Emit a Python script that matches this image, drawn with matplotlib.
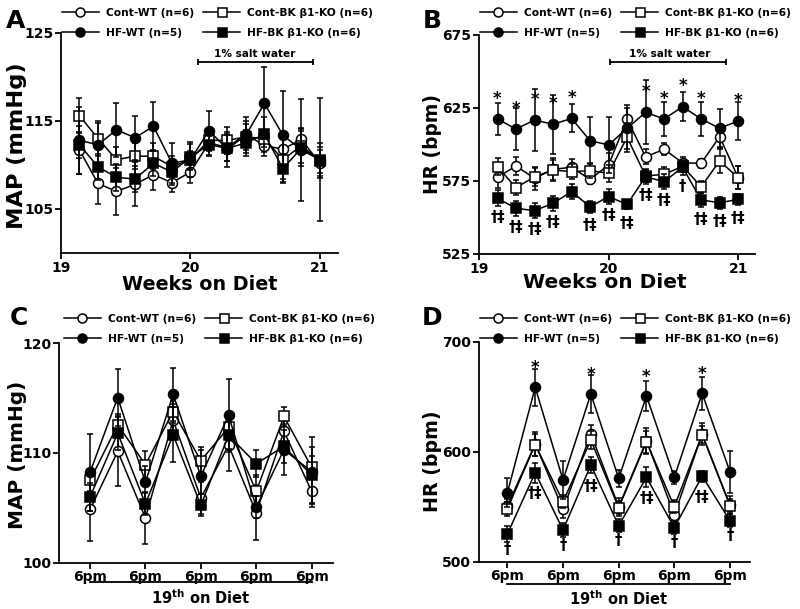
import matplotlib
matplotlib.use('Agg')
import matplotlib.pyplot as plt
import matplotlib.transforms as mtransforms
from matplotlib.lines import Line2D
import numpy as np

plt.rcParams['font.family'] = ['DejaVu Sans']
plt.rcParams['font.weight'] = 'bold'
plt.rcParams['mathtext.fontset'] = 'dejavusans'

# ---------------- data ----------------
series_names = ['Cont-WT (n=6)', 'Cont-BK \u03b21-KO (n=6)', 'HF-WT (n=5)', 'HF-BK \u03b21-KO (n=6)']

# Panel A / B : days 1..14 of weeks 19-21
days = np.arange(1, 15)

cont_wt_A = [111.7, 107.9, 107.0, 107.8, 108.9, 108.0, 109.2, 112.5, 112.0, 113.5, 112.2, 111.8, 112.9, 110.2]
cont_bk_A = [115.6, 113.0, 110.6, 111.0, 111.0, 109.8, 110.6, 112.8, 112.8, 113.2, 113.0, 110.6, 112.2, 110.5]
hf_wt_A   = [112.8, 112.3, 114.0, 113.1, 114.4, 110.2, 110.6, 113.9, 111.8, 113.4, 117.0, 113.4, 111.7, 110.6]
hf_bk_A   = [112.3, 109.8, 108.6, 108.4, 110.2, 109.2, 110.9, 112.3, 111.9, 112.5, 113.5, 109.6, 111.9, 110.6]
cont_wt_err_A = [2.7, 2.3, 2.7, 2.5, 1.7, 1.1, 1.2, 1.5, 1.5, 1.5, 1.2, 1.5, 1.2, 1.5]
cont_bk_err_A = [2.0, 2.0, 1.5, 1.5, 1.5, 1.2, 1.0, 1.2, 1.5, 1.5, 1.0, 2.5, 2.0, 2.0]
hf_wt_err_A   = [3.8, 2.5, 3.1, 2.5, 2.8, 2.3, 2.0, 2.2, 2.0, 2.0, 4.1, 5.0, 5.8, 7.0]
hf_bk_err_A   = [1.5, 1.5, 1.5, 1.5, 1.5, 1.5, 1.5, 1.2, 1.5, 1.5, 2.0, 1.7, 2.0, 1.5]

cont_wt_B = [577.5, 585.3, 576.8, 583.0, 584.4, 576.1, 586.0, 617.3, 591.6, 596.7, 587.5, 587.1, 605.4, 577.3]
cont_bk_B = [584.8, 570.4, 577.9, 582.5, 581.4, 582.1, 580.3, 605.0, 578.4, 579.6, 585.0, 571.1, 588.7, 577.3]
hf_wt_B   = [617.5, 610.6, 616.8, 613.8, 617.9, 602.6, 599.7, 611.1, 622.0, 617.5, 625.9, 617.5, 611.1, 616.1]
hf_bk_B   = [563.1, 556.3, 554.7, 559.7, 567.7, 557.4, 564.3, 559.0, 577.9, 574.5, 584.4, 562.0, 560.1, 562.4]
cont_wt_err_B = [7, 6, 8, 8, 6, 3, 8, 10, 5, 4, 4, 3, 8, 8]
cont_bk_err_B = [6, 5, 6, 7, 5, 5, 6, 10, 4, 5, 4, 4, 8, 8]
hf_wt_err_B   = [10.7, 14.6, 21, 20, 9.6, 16, 19, 14, 22, 11.5, 10, 11.5, 13, 13]
hf_bk_err_B   = [5.5, 5, 5, 5, 5, 4, 5, 3, 5, 5, 5, 5, 4, 4]
star_B = ['*', '*', '*', '*', '*', '', '', '', '*', '*', '*', '*', '', '*']
dag_B  = ['\u2020\u2021', '\u2020\u2021', '\u2020\u2021', '\u2020\u2021', '', '\u2020\u2021', '\u2020\u2021',
          '\u2020\u2021', '\u2020\u2021', '\u2020\u2021', '\u2020', '\u2020\u2021', '\u2020\u2021', '\u2020\u2021']

# Panel C / D : 9 time points on day 19
points = np.arange(9)
time_labels = ['6pm', '6pm', '6pm', '6pm', '6pm']

cont_wt_C = [104.85, 110.15, 104.09, 113.0, 105.9, 110.7, 104.55, 111.97, 106.5]
cont_bk_C = [107.5, 112.57, 108.94, 113.78, 109.3, 112.33, 106.51, 113.33, 108.7]
hf_wt_C   = [108.24, 115.05, 107.33, 115.36, 107.88, 113.42, 105.05, 110.3, 108.3]
hf_bk_C   = [106.0, 111.8, 105.36, 111.66, 105.24, 111.6, 109.03, 110.6, 107.97]
cont_wt_err_C = [2.85, 3.2, 2.4, 1.5, 1.5, 2.3, 2.5, 1.2, 1.1]
cont_bk_err_C = [1.0, 1.0, 1.2, 1.0, 1.0, 1.0, 1.5, 0.9, 1.0]
hf_wt_err_C   = [3.5, 2.6, 1.5, 2.4, 2.7, 3.3, 1.0, 2.3, 3.2]
hf_bk_err_C   = [1.3, 1.5, 1.0, 2.5, 1.0, 1.2, 1.2, 1.5, 2.6]

cont_wt_D = [550.6, 607.0, 547.6, 616.1, 550.0, 610.0, 542.5, 616.0, 551.5]
cont_bk_D = [548.0, 606.5, 554.6, 610.6, 549.0, 609.0, 550.0, 615.5, 551.0]
hf_wt_D   = [562.7, 658.5, 574.3, 652.5, 575.8, 650.6, 576.7, 653.0, 581.8]
hf_bk_D   = [525.2, 580.9, 528.8, 587.9, 532.7, 576.7, 530.9, 577.9, 537.3]
cont_wt_err_D = [6, 11, 8, 8, 8, 12, 6, 10, 8]
cont_bk_err_D = [6, 10, 6, 8, 6, 10, 6, 8, 6]
hf_wt_err_D   = [13, 17, 17, 17, 8, 14, 6, 15, 19]
hf_bk_err_D   = [7, 9, 6, 7, 6, 9, 6, 5, 6]
star_D = ['', '*', '', '*', '', '*', '', '*', '']
dag_D  = ['\u2020', '\u2020\u2021', '\u2020', '\u2020\u2021', '\u2020', '\u2020\u2021', '\u2020', '\u2020\u2021', '\u2020']

# ---------------- styling ----------------
W, H = 800, 609
fig = plt.figure(figsize=(W / 100, H / 100), dpi=100)

MS = 7.2
LW = 1.1
styles = [dict(marker='o', mfc='white'), dict(marker='s', mfc='white'),
          dict(marker='o', mfc='black'), dict(marker='s', mfc='black')]


def px_axes(l, t, r, b):
    return fig.add_axes([l / W, 1 - b / H, (r - l) / W, (b - t) / H])


def style_axes(ax, xpad):
    for s in ['top', 'right']:
        ax.spines[s].set_visible(False)
    for s in ['left', 'bottom']:
        ax.spines[s].set_linewidth(1.3)
    ax.tick_params(direction='out', length=4, width=1.3, labelsize=10)
    ax.tick_params(axis='x', pad=xpad)
    ax.tick_params(axis='y', pad=1.5)
    for lab in ax.get_xticklabels() + ax.get_yticklabels():
        lab.set_fontweight('bold')


def draw_series(ax, x, ys, errs):
    for i, (y, e) in enumerate(zip(ys, errs)):
        ax.errorbar(x, y, yerr=e, color='black', lw=LW, elinewidth=LW, capsize=2.0, capthick=LW,
                    ms=MS, mec='black', mew=1.1, zorder=3 + i, **styles[i])


def add_legend(x, y):
    hs = [Line2D([], [], color='black', lw=LW, ms=MS, mec='black', mew=1.1, **st) for st in styles]
    order = [0, 2, 1, 3]
    fig.legend([hs[i] for i in order], [series_names[i] for i in order], ncol=2, loc='upper left',
               bbox_to_anchor=(x / W, 1 - y / H), frameon=False, handlelength=3.45,
               handletextpad=0.65, columnspacing=0.85, labelspacing=0.95, borderpad=0, borderaxespad=0,
               markerscale=0.9, numpoints=1, prop={'weight': 'bold', 'size': 7.7})


def annotate_marks(ax, x, y, labels, offset_px, fs, above, glyph_center_em):
    em_px = fs * 100 / 72
    for xi, yi, lab in zip(x, y, labels):
        if not lab:
            continue
        if above:
            off = offset_px - glyph_center_em * em_px
        else:
            off = -(offset_px + glyph_center_em * em_px)
        ax.annotate(lab, xy=(xi, yi), xytext=(0, off * 0.72), textcoords='offset points',
                    ha='center', va='baseline', fontsize=fs, fontweight='bold', zorder=10,
                    annotation_clip=False)


# ---------------- Panel A ----------------
axA = px_axes(61, 33, 338, 253)
xw = 19 + days / 7
draw_series(axA, xw, [cont_wt_A, cont_bk_A, hf_wt_A, hf_bk_A],
            [cont_wt_err_A, cont_bk_err_A, hf_wt_err_A, hf_bk_err_A])
axA.set_xlim(19, 21.14)
axA.set_ylim(100, 125)
axA.set_xticks([19, 20, 21])
axA.set_yticks([105, 115, 125])
style_axes(axA, 2)
axA.plot([20.06, 20.95], [121.7, 121.7], color='black', lw=1.3, clip_on=False)
axA.plot([20.06, 20.95], [121.7, 121.7], ls='none', marker='|', ms=5, mew=1.3, color='black', clip_on=False)
axA.annotate('1% salt water', xy=(20.5, 121.7), xytext=(0, 2.5), textcoords='offset points',
             ha='center', va='bottom', fontsize=7.6, fontweight='bold')

# ---------------- Panel B ----------------
axB = px_axes(479, 35, 755, 254)
draw_series(axB, xw, [cont_wt_B, cont_bk_B, hf_wt_B, hf_bk_B],
            [cont_wt_err_B, cont_bk_err_B, hf_wt_err_B, hf_bk_err_B])
axB.set_xlim(19, 21.13)
axB.set_ylim(525, 675)
axB.set_xticks([19, 20, 21])
axB.set_yticks([525, 575, 625, 675])
style_axes(axB, 1.5)
axB.plot([20.01, 20.91], [656.3, 656.3], color='black', lw=1.3, clip_on=False)
axB.plot([20.01, 20.91], [656.3, 656.3], ls='none', marker='|', ms=5, mew=1.3, color='black', clip_on=False)
axB.annotate('1% salt water', xy=(20.47, 656.3), xytext=(0, 2.5), textcoords='offset points',
             ha='center', va='bottom', fontsize=7.6, fontweight='bold')
annotate_marks(axB, xw, hf_wt_B, star_B, 25, 12, True, 0.575)
annotate_marks(axB, xw, hf_bk_B, dag_B, 19, 10.5, False, 0.31)

# ---------------- Panel C ----------------
axC = px_axes(59, 343.3, 333, 562.7)
draw_series(axC, points, [cont_wt_C, cont_bk_C, hf_wt_C, hf_bk_C],
            [cont_wt_err_C, cont_bk_err_C, hf_wt_err_C, hf_bk_err_C])
axC.set_xlim(-1.12, 8.77)
axC.set_ylim(100, 120)
axC.set_xticks(points[::2])
axC.set_xticklabels(time_labels)
axC.set_yticks([100, 110, 120])
style_axes(axC, 1.5)

# ---------------- Panel D ----------------
axD = px_axes(479, 341.7, 750, 561.7)
draw_series(axD, points, [cont_wt_D, cont_bk_D, hf_wt_D, hf_bk_D],
            [cont_wt_err_D, cont_bk_err_D, hf_wt_err_D, hf_bk_err_D])
axD.set_xlim(-1.02, 8.72)
axD.set_ylim(500, 700)
axD.set_xticks(points[::2])
axD.set_xticklabels(time_labels)
axD.set_yticks([500, 600, 700])
style_axes(axD, 1.5)
annotate_marks(axD, points, hf_wt_D, star_D, 24, 12, True, 0.575)
dag_off_D = [15 if len(s) == 1 else 21 for s in dag_D]
for xi, yi, lab, o in zip(points, hf_bk_D, dag_D, dag_off_D):
    annotate_marks(axD, [xi], [yi], [lab], o, 10.5, False, 0.31)

for ax, yline, ytext in [(axC, -0.0866, -0.161), (axD, -0.103, -0.166)]:
    tr = mtransforms.blended_transform_factory(ax.transData, ax.transAxes)
    ax.plot([0, 8], [yline, yline], color='black', lw=1.3, transform=tr, clip_on=False)
    ax.text(4, ytext, r'19$^{\mathbf{th}}$ on Diet', transform=tr, ha='center', va='center',
            fontsize=10.5, fontweight='bold')

# ---------------- labels, legends, panel letters ----------------
fig.text(17 / W, 1 - 146 / H, 'MAP (mmHg)', rotation=90, ha='center', va='center', fontsize=16.2, fontweight='bold')
fig.text(432 / W, 1 - 144 / H, 'HR (bpm)', rotation=90, ha='center', va='center', fontsize=13.4, fontweight='bold')
fig.text(17.5 / W, 1 - 455 / H, 'MAP (mmHg)', rotation=90, ha='center', va='center', fontsize=14.4, fontweight='bold')
fig.text(432 / W, 1 - 461 / H, 'HR (bpm)', rotation=90, ha='center', va='center', fontsize=13.7, fontweight='bold')
fig.text(200 / W, 1 - 285 / H, 'Weeks on Diet', ha='center', va='center', fontsize=13.8, fontweight='bold')
fig.text(605 / W, 1 - 282 / H, 'Weeks on Diet', ha='center', va='center', fontsize=14.5, fontweight='bold')

for lab, x, y in [('A', 16, 21), ('B', 432, 21), ('C', 19, 318), ('D', 432, 318)]:
    fig.text(x / W, 1 - y / H, lab, ha='center', va='center', fontsize=18, fontweight='bold')

add_legend(62, 7.5)
add_legend(480, 7.5)
add_legend(64, 314)
add_legend(480, 314)

fig.savefig('out.png', dpi=100)
